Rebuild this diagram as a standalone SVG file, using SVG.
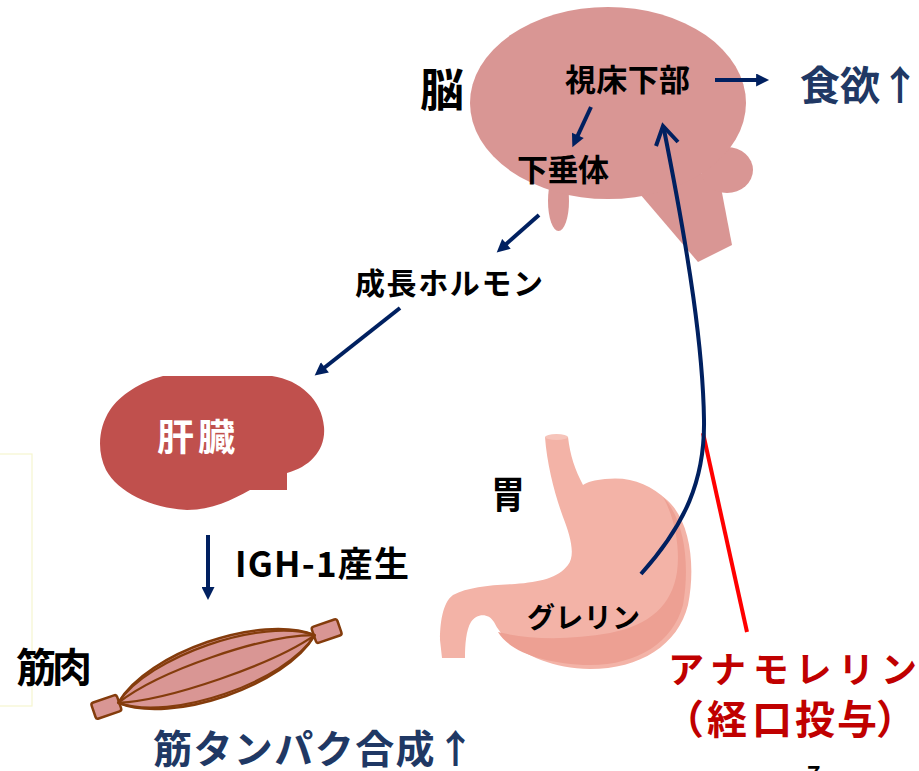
<svg xmlns="http://www.w3.org/2000/svg" width="919" height="771" viewBox="0 0 919 771">
  <style>
    text { font-family: "Noto Sans CJK JP", "Noto Sans", sans-serif; font-weight: 700; }
    .blk { fill: #000000; }
    .navytxt { fill: #203864; }
    .redtxt { fill: #C00000; }
    .conn { stroke: #002060; stroke-width: 4; fill: none; }
    .organ-brain { fill: #D99694; }
    .muscle { fill: #D99694; stroke: #843C0C; stroke-width: 2.5; stroke-linejoin: round; }
    .muscle-line { fill: none; stroke: #843C0C; stroke-width: 2.2; }
  </style>
  <defs>
    <marker id="head" markerUnits="userSpaceOnUse" markerWidth="14" markerHeight="13" viewBox="0 0 10 10" refX="3" refY="5" orient="auto">
      <path d="M0,0 L10,5 L0,10 z" fill="#002060"/>
    </marker>
  </defs>

  <rect width="919" height="771" fill="#ffffff"/>

  <!-- thin frame at the left edge -->
  <rect x="-1" y="454" width="33" height="252" fill="none" stroke="#F6F6CF" stroke-width="1.2"/>

  <!-- brain -->
  <g id="brain">
    <polygon class="organ-brain" points="628,180 698,262 732,245 718,172"/>
    <ellipse class="organ-brain" cx="727" cy="170" rx="26" ry="23"/>
    <ellipse class="organ-brain" cx="558.5" cy="201" rx="10.5" ry="30"/>
    <ellipse class="organ-brain" cx="608" cy="103" rx="138" ry="96"/>
    <text class="blk" x="420" y="107" font-size="45" textLength="44" lengthAdjust="spacingAndGlyphs">脳</text>
  </g>

  <g id="hypothalamus">
    <text class="blk" x="565" y="91" font-size="31" textLength="125">視床下部</text>
  </g>

  <g id="pituitary">
    <text class="blk" x="517" y="181" font-size="31" textLength="92">下垂体</text>
  </g>

  <g id="appetite">
    <text class="navytxt" x="800" y="100" font-size="40">食欲↑</text>
  </g>

  <g id="growth-hormone">
    <text class="blk" x="355" y="294" font-size="30" textLength="188">成長ホルモン</text>
  </g>

  <!-- liver -->
  <g id="liver">
    <path fill="#C0504D" d="M 163 376 L 272 376 C 300 380 322 400 324 427 C 326 450 310 467 287 473 L 287 490 L 250 490 C 232 500 212 510 187 510 C 150 508 118 492 106 470 C 97 452 98 428 110 410 C 120 395 140 382 163 376 Z"/>
    <text fill="#ffffff" x="157" y="451" font-size="37" textLength="78">肝臓</text>
  </g>

  <g id="igf1">
    <text class="blk" x="235" y="577" font-size="35" textLength="174">IGH-1産生</text>
  </g>

  <!-- muscle -->
  <g id="muscle">
    <text class="blk" x="16" y="682" font-size="40" textLength="76">筋肉</text>
    <g transform="translate(216.5,669) rotate(-19)">
      <rect class="muscle" x="-130" y="-8.5" width="27" height="17" rx="2.5"/>
      <rect class="muscle" x="103" y="-8.5" width="27" height="17" rx="2.5"/>
      <path class="muscle" d="M -104 0 C -60 -38 60 -38 104 0 C 60 38 -60 38 -104 0 Z"/>
      <path class="muscle-line" d="M -104 0 C -60 -34 60 -34 104 0"/>
      <path class="muscle-line" d="M -104 0 C -60 35 60 35 104 0"/>
      <path class="muscle-line" d="M -104 0 C -55 -17 55 -17 104 0"/>
      <path class="muscle-line" d="M -104 0 C -55 14 55 14 104 0"/>
    </g>
    <text class="navytxt" x="153" y="763" font-size="39" textLength="322">筋タンパク合成↑</text>
  </g>

  <!-- stomach -->
  <g id="stomach">
    <text class="blk" x="491" y="508" font-size="38" textLength="34" lengthAdjust="spacingAndGlyphs">胃</text>
    <path fill="#F3B3A7" d="M 545 437 C 547 465 555 495 563 517 C 570 535 576 555 568 565 C 558 578 540 582 515 584 C 490 585 468 587 453 595 C 442 603 440 625 440 640 L 442 658 L 465 658 C 465 645 466 630 471 622 C 476 614 488 612 494 622 C 505 645 540 668 590 669 C 640 669 678 645 688 605 C 696 565 690 520 667 500 C 650 484 630 476 605 479 C 595 480 587 482 583 485 C 575 470 570 455 568 437 Z"/>
    <path fill="#EDA093" d="M 663 497 C 676 520 680 550 677 572 C 672 605 650 625 610 633 C 570 640 530 640 498 632 C 510 652 545 664 590 665 C 638 665 673 642 683 605 C 690 565 685 520 663 497 Z"/>
    <ellipse cx="556.5" cy="437" rx="11.5" ry="3" fill="#F6C4BA"/>
    <text class="blk" x="527" y="628" font-size="28" textLength="113">グレリン</text>
  </g>

  <g id="anamorelin">
    <text class="redtxt" x="668" y="683" font-size="36" textLength="249">アナモレリン</text>
    <text class="redtxt" x="664 707 752 795 837 876" y="734" font-size="40">（経口投与）</text>
  </g>

  <g id="page-number">
    <text class="blk" x="807" y="783" font-size="23" font-weight="400">7</text>
  </g>

  <!-- connectors -->
  <g id="connectors">
    <line class="conn" x1="715" y1="80" x2="760" y2="80" marker-end="url(#head)"/>
    <line class="conn" x1="591" y1="107" x2="576.2" y2="138.9" marker-end="url(#head)"/>
    <line class="conn" x1="539" y1="215" x2="503.5" y2="246.4" marker-end="url(#head)"/>
    <line class="conn" x1="400" y1="308" x2="321.8" y2="369.8" marker-end="url(#head)"/>
    <line class="conn" x1="208" y1="535" x2="208" y2="591" marker-end="url(#head)"/>
    <path stroke="#FF0000" stroke-width="4" fill="none" d="M 703 433 L 747 632"/>
    <path class="conn" d="M 641 574 C 685 525 705 480 704 420 C 703 350 690 260 663.5 127"/>
    <polyline class="conn" points="656,146 663,126 678,142" stroke-linejoin="miter"/>
  </g>
</svg>
